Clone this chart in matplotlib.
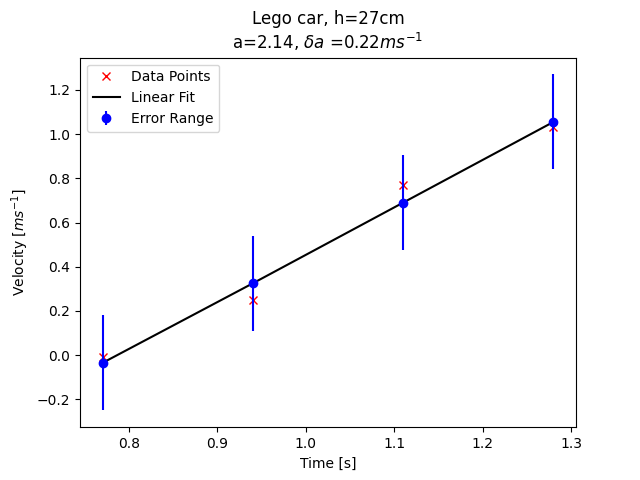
import matplotlib
matplotlib.use("Agg")
import matplotlib.pyplot as plt
import numpy as np

times = [0.77, 0.94, 1.11, 1.28]
velocities = [-0.01, 0.25, 0.77, 1.03]
fit_values = [-0.035, 0.325, 0.69, 1.055]
errors = [0.215, 0.215, 0.215, 0.215]

fig, ax = plt.subplots(figsize=(6.4, 4.8), dpi=100)
ax.plot(times, velocities, 'rx', label='Data Points')
ax.plot(times, fit_values, 'k-', label='Linear Fit')
ax.errorbar(times, fit_values, yerr=errors, fmt='bo', label='Error Range')
ax.set_xlabel('Time [s]')
ax.set_ylabel('Velocity [$ms^{-1}$]')
ax.set_title('Lego car, h=27cm\na=2.14, $\\delta a$ =0.22$ms^{-1}$')
ax.legend(loc='upper left')
fig.savefig('out.png')
